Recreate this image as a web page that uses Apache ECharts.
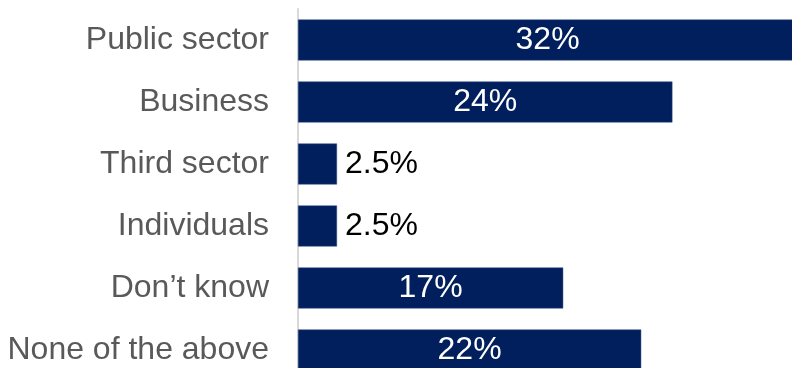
<!DOCTYPE html>
<html>
<head>
<meta charset="utf-8">
<script src="https://cdn.jsdelivr.net/npm/echarts@6/dist/echarts.min.js"></script>
<style>
  html, body { margin: 0; padding: 0; background: #ffffff; overflow: hidden; width: 792px; height: 368px; }
  /* drawing surface runs past the right and bottom edges of the page */
  #chart { width: 922px; height: 381px; }
</style>
</head>
<body>
<div id="chart"></div>
<script>
// Funding sources, listed top to bottom
const categories = ['Public sector', 'Business', 'Third sector', 'Individuals', 'Don\u2019t know', 'None of the above'];
const values = [32, 24, 2.5, 2.5, 17, 22];
// Bars shorter than this get their label outside, in dark text
const insideThreshold = 5;

const chart = echarts.init(document.getElementById('chart'), null, { renderer: 'canvas' });

const barData = values.map(v => ({
  value: v,
  label: v < insideThreshold
    ? { position: 'right', color: '#000000', distance: 8 }
    : { position: 'inside', color: '#ffffff' }
}));

chart.setOption({
  animation: false,
  backgroundColor: '#ffffff',
  grid: { left: 298, top: 9, right: 0, bottom: 0, containLabel: false },
  xAxis: {
    type: 'value',
    min: 0,
    max: 40,
    show: false
  },
  yAxis: {
    type: 'category',
    data: categories,
    inverse: true,
    axisLine: { show: true, lineStyle: { color: '#d9d9d9', width: 2 } },
    axisTick: { show: false },
    axisLabel: {
      color: '#595959',
      fontFamily: 'Liberation Sans, Arial, sans-serif',
      fontSize: 32,
      margin: 29
    }
  },
  series: [{
    type: 'bar',
    data: barData,
    barCategoryGap: '34%',
    itemStyle: { color: '#001f5c', borderColor: '#2e4a80', borderWidth: 0.5 },
    label: {
      show: true,
      fontFamily: 'Liberation Sans, Arial, sans-serif',
      fontSize: 32,
      formatter: p => p.value + '%'
    }
  }]
});
</script>
</body>
</html>
